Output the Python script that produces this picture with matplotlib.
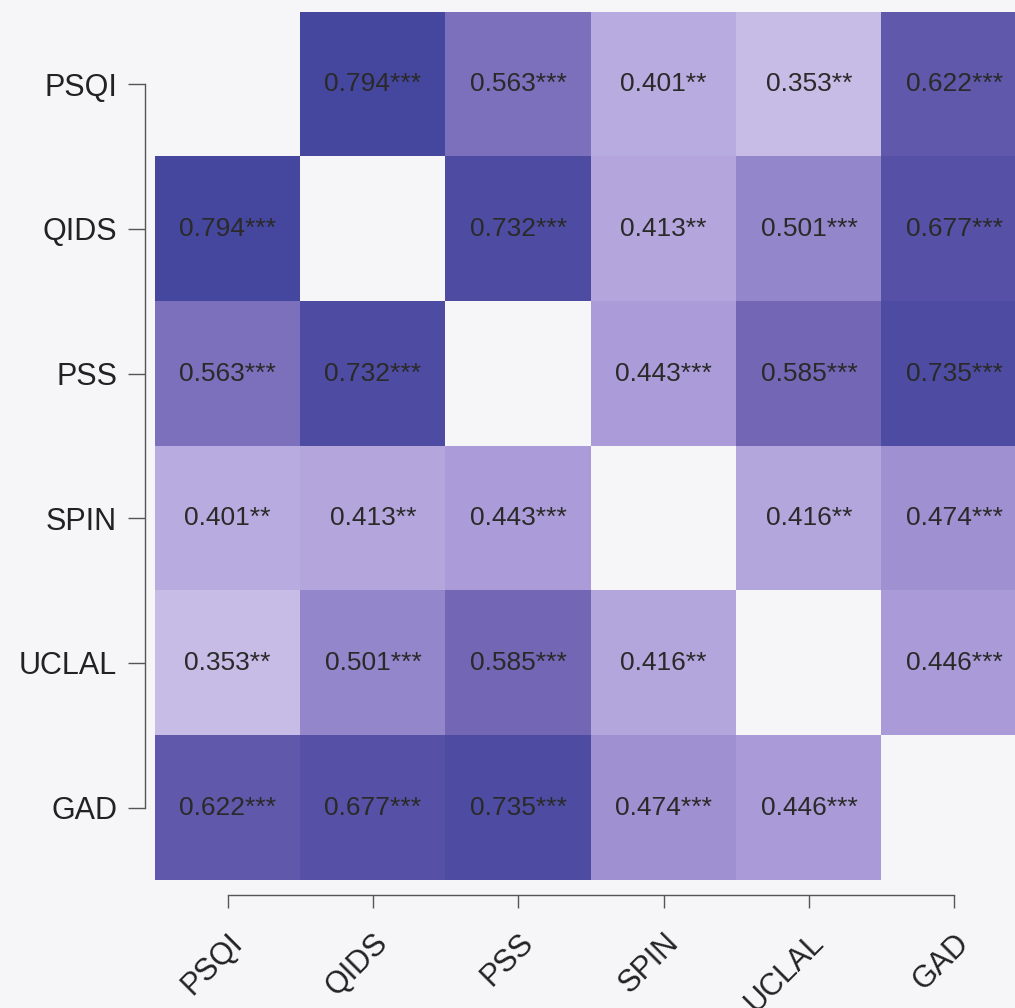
import matplotlib
matplotlib.use('Agg')
import matplotlib.pyplot as plt
import numpy as np
from matplotlib.colors import LinearSegmentedColormap

plt.rcParams['font.family'] = ['Liberation Sans', 'DejaVu Sans']

# Scales (row/column order of the matrix)
labels = ['PSQI', 'QIDS', 'PSS', 'SPIN', 'UCLAL', 'GAD']

# Correlation coefficients (symmetric, diagonal left blank)
r = np.array([
    [np.nan, 0.794, 0.563, 0.401, 0.353, 0.622],
    [0.794, np.nan, 0.732, 0.413, 0.501, 0.677],
    [0.563, 0.732, np.nan, 0.443, 0.585, 0.735],
    [0.401, 0.413, 0.443, np.nan, 0.416, 0.474],
    [0.353, 0.501, 0.585, 0.416, np.nan, 0.446],
    [0.622, 0.677, 0.735, 0.474, 0.446, np.nan],
])

# Significance markers
stars = [
    ['', '***', '***', '**', '**', '***'],
    ['***', '', '***', '**', '***', '***'],
    ['***', '***', '', '***', '***', '***'],
    ['**', '**', '***', '', '**', '***'],
    ['**', '***', '***', '**', '', '***'],
    ['***', '***', '***', '***', '***', ''],
]

vmin, vmax = 0.33, 0.80
cmap = LinearSegmentedColormap.from_list(
    'slatepurple',
    [(0.0, '#cdc4ea'), (0.255, '#a99ad8'), (0.489, '#7e70bc'),
     (0.638, '#5d56aa'), (1.0, '#45469e')])
cmap.set_bad((0, 0, 0, 0))

bg = '#f6f6f8'
fig = plt.figure(figsize=(10.15, 10.08), dpi=100, facecolor=bg)
ax = fig.add_axes([155 / 1015, 128 / 1008, 872 / 1015, 868 / 1008])
ax.set_facecolor(bg)

n = len(labels)
ax.imshow(np.ma.masked_invalid(r), cmap=cmap, vmin=vmin, vmax=vmax,
          aspect='auto', interpolation='nearest',
          extent=(-0.5, n - 0.5, n - 0.5, -0.5))

for i in range(n):
    for j in range(n):
        if np.isnan(r[i, j]):
            continue
        ax.text(j, i, f'{r[i, j]:.3f}{stars[i][j]}', ha='center', va='center',
                fontsize=19, color='#2a2a2a')

ax.set_xlim(-0.5, n - 0.5)
ax.set_ylim(n - 0.5, -0.5)

# Offset, trimmed spines (done first: moving a spine resets the ticks)
for side in ['top', 'right']:
    ax.spines[side].set_visible(False)
ax.spines['left'].set_position(('outward', 7.2))
ax.spines['bottom'].set_position(('outward', 10.8))
ax.spines['left'].set_bounds(0, n - 1)
ax.spines['bottom'].set_bounds(0, n - 1)
for side in ['left', 'bottom']:
    ax.spines[side].set_color('#555555')
    ax.spines[side].set_linewidth(1.0)

ax.tick_params(axis='y', length=12, width=1.0, color='#555555', pad=8)
ax.tick_params(axis='x', length=9.5, width=1.0, color='#555555', pad=14)

ax.set_xticks(range(n))
ax.set_yticks(range(n))
ax.set_yticklabels(labels, fontsize=22, color='#222222')
ax.set_xticklabels(labels, fontsize=22, color='#222222', rotation=45,
                   ha='right', va='top', rotation_mode='anchor')

fig.savefig('out.png', dpi=100, facecolor=bg)
